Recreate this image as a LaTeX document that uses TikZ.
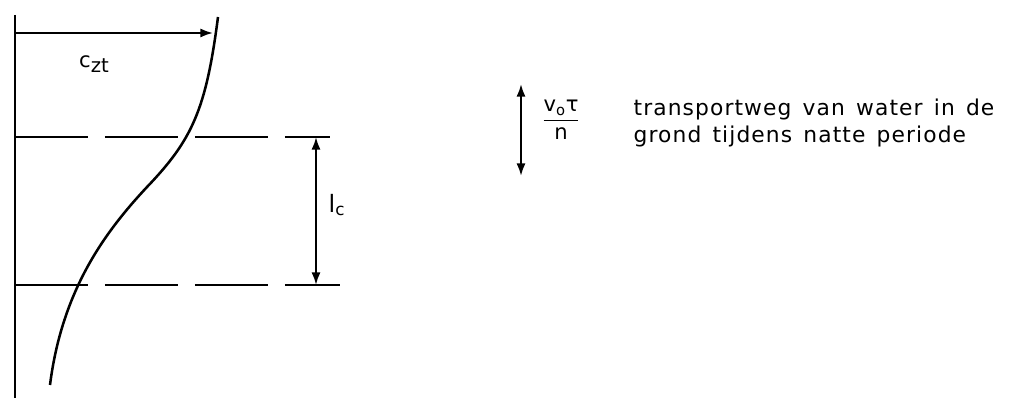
\documentclass[tikz,border=0pt]{standalone}
\usepackage{fontspec}
\setmainfont{DejaVu Sans}
\newfontfamily\uitlegfont[LetterSpace=5,WordSpace=1.4]{DejaVu Sans}
\usepackage{tikz}
\usetikzlibrary{arrows.meta,positioning}

\begin{document}
\begin{tikzpicture}[
    x=0.025cm, y=-0.025cm,
    font=\fontsize{15}{18}\selectfont,
    as/.style={draw, line width=1.6pt},
    peil/.style={draw, line width=1.3pt, dash pattern=on 52pt off 12pt},
    maat/.style={draw, line width=1.5pt, {Latex[length=9pt,width=6.5pt]}-{Latex[length=9pt,width=6.5pt]}},
    pijl/.style={draw, line width=1.5pt, -{Latex[length=9pt,width=6.5pt]}},
    kromme/.style={draw, line width=1.8pt},
    label/.style={inner sep=1pt}
  ]
    \useasboundingbox (0,0) rectangle (1017,398);

    % as en lijnen
    \coordinate (astop) at (15,15);
    \coordinate (asbodem) at (15,398);
    \coordinate (czt) at (213,33);
    \coordinate (boven) at (15,137);
    \coordinate (bovenr) at (330,137);
    \coordinate (onder) at (15,285);
    \coordinate (onderr) at (340,285);
    \coordinate (lctop) at (316,137);
    \coordinate (lcbodem) at (316,285);
    \coordinate (vtop) at (521,84);
    \coordinate (vbodem) at (521,176);

    \draw[as] (astop) -- (asbodem);
    \draw[pijl] (astop |- czt) -- (czt);
    \draw[peil] (boven) -- (bovenr);
    \draw[peil] (onder) -- (onderr);
    \draw[maat] (lctop) -- (lcbodem);
    \draw[maat] (vtop) -- (vbodem);

    % concentratieprofiel
    \draw[kromme] (218,17) .. controls (206,110) and (192,140) .. (147,187)
      .. controls (105,232) and (62,290) .. (50,385);

    % teksten
    \node[label] (cztlbl) at (94,64)
      {c\raisebox{-0.5ex}{\fontsize{14}{14}\selectfont zt}};
    \node[label, anchor=west] (lclbl) at (327,205)
      {\fontsize{17}{17}\selectfont l\textsubscript{c}};
    \node[label] (breuk) at (561,120)
      {$\displaystyle\frac{\mbox{v\textsubscript{o}τ}}{\mbox{n}}$};
    \node[label, anchor=west, align=left,
      font=\uitlegfont\fontsize{15.5}{17.8}\selectfont]
      (uitleg) at (632,123)
      {transportweg van water in de\\[1pt]grond tijdens natte periode};
  \end{tikzpicture}
\end{document}
